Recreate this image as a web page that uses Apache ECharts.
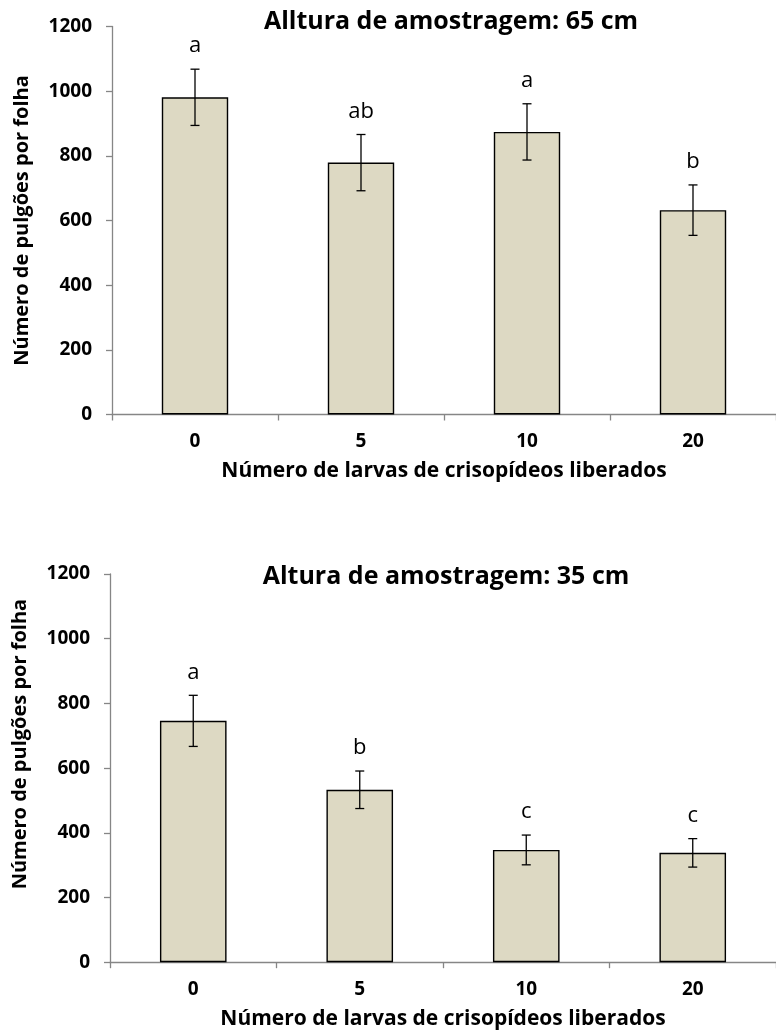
<!DOCTYPE html>
<html>
<head>
<meta charset="utf-8">
<script src="https://cdn.jsdelivr.net/npm/echarts@6/dist/echarts.min.js"></script>
<style>
  html, body { margin: 0; padding: 0; background: #ffffff; }
  #chart { width: 776px; height: 1035px; }
</style>
</head>
<body>
<div id="chart"></div>
<script>
// Number of lacewing larvae released (x categories)
const categories = ['0', '5', '10', '20'];

// Sampling height 65 cm: mean aphids per leaf, standard error, Tukey letters
const mean65 = [981, 779, 874, 632];
const err65 = [87, 87, 87, 78];
const letters65 = ['a', 'ab', 'a', 'b'];

// Sampling height 35 cm
const mean35 = [746, 533, 347, 338];
const err35 = [79, 58, 46, 44];
const letters35 = ['a', 'b', 'c', 'c'];

// Y axis range and step
const yMin = 0;
const yMax = 1200;
const yStep = 200;

const titles = ['Alltura de amostragem: 65 cm', 'Altura de amostragem: 35 cm'];
const xName = 'Número de larvas de crisopídeos liberados';
const yName = 'Número de pulgões por folha';

const FONT = '"Open Sans", "Liberation Sans", sans-serif';
const axisGrey = '#868686';

function xAxisFor(gridIndex) {
  return {
    type: 'category',
    gridIndex: gridIndex,
    data: categories,
    name: xName,
    nameLocation: 'middle',
    nameGap: 45,
    nameTextStyle: { fontFamily: FONT, fontWeight: 'bold', fontSize: 21, lineHeight: 24, color: '#000' },
    axisLine: { lineStyle: { color: axisGrey, width: 1.3 } },
    axisTick: { show: true, length: 6, interval: 0, lineStyle: { color: axisGrey, width: 1.3 } },
    axisLabel: { fontFamily: FONT, fontWeight: 'bold', fontSize: 19, color: '#000', margin: 18, interval: 0 },
    splitLine: { show: false }
  };
}

function yAxisFor(gridIndex, namePad) {
  return {
    type: 'value',
    gridIndex: gridIndex,
    min: yMin,
    max: yMax,
    interval: yStep,
    name: yName,
    nameLocation: 'middle',
    nameRotate: 90,
    nameGap: 78,
    nameTextStyle: { fontFamily: FONT, fontWeight: 'bold', fontSize: 20, lineHeight: 24, color: '#000', padding: namePad },
    axisLine: { show: true, lineStyle: { color: axisGrey, width: 1.3 } },
    axisTick: { show: true, length: 6, lineStyle: { color: axisGrey, width: 1.3 } },
    axisLabel: {
      fontFamily: FONT, fontWeight: 'bold', fontSize: 19, color: '#000', margin: 20,
      formatter: function (v) { return String(v); }
    },
    splitLine: { show: false }
  };
}

function barSeries(gridIndex, means) {
  return {
    type: 'bar',
    xAxisIndex: gridIndex,
    yAxisIndex: gridIndex,
    data: means,
    barWidth: '40%',
    z: 2,
    itemStyle: { color: '#DDD9C3', borderColor: '#000', borderWidth: 1.4 },
    emphasis: { disabled: true },
    silent: true
  };
}

// Error bars with caps, plus the significance letter above each bar
function errorSeries(gridIndex, means, errs, letters) {
  return {
    type: 'custom',
    xAxisIndex: gridIndex,
    yAxisIndex: gridIndex,
    silent: true,
    z: 5,
    data: means.map((m, i) => [i, m - errs[i], m + errs[i]]),
    renderItem: function (params, api) {
      const x = api.coord([api.value(0), 0])[0];
      const lo = api.coord([api.value(0), api.value(1)])[1];
      const hi = api.coord([api.value(0), api.value(2)])[1];
      const half = 4.5;
      const st = { stroke: '#000', lineWidth: 1.3 };
      return {
        type: 'group',
        children: [
          { type: 'line', shape: { x1: x, y1: hi, x2: x, y2: lo }, style: st },
          { type: 'line', shape: { x1: x - half, y1: hi, x2: x + half, y2: hi }, style: st },
          { type: 'line', shape: { x1: x - half, y1: lo, x2: x + half, y2: lo }, style: st },
          {
            type: 'text', x: x, y: hi - 12,
            style: {
              text: letters[params.dataIndex], fill: '#000',
              font: 'normal 22px ' + FONT,
              textAlign: 'center', textVerticalAlign: 'bottom'
            }
          }
        ]
      };
    }
  };
}

const chart = echarts.init(document.getElementById('chart'), null, { renderer: 'canvas' });

chart.setOption({
  animation: false,
  backgroundColor: '#ffffff',
  title: [
    {
      text: titles[0], left: 451, top: 8, textAlign: 'center', padding: 0,
      textStyle: { fontFamily: FONT, fontWeight: 'bold', fontSize: 25, lineHeight: 28, color: '#000' }
    },
    {
      text: titles[1], left: 446, top: 563, textAlign: 'center', padding: 0,
      textStyle: { fontFamily: FONT, fontWeight: 'bold', fontSize: 25, lineHeight: 28, color: '#000' }
    }
  ],
  grid: [
    { left: 112, top: 26.5, width: 674.8, height: 388, containLabel: false },
    { left: 109, top: 574, width: 673.6, height: 388.2, containLabel: false }
  ],
  xAxis: [xAxisFor(0), xAxisFor(1)],
  yAxis: [yAxisFor(0, [0, 0, 0, 0]), yAxisFor(1, [0, 0, 0, 48])],
  series: [
    barSeries(0, mean65),
    errorSeries(0, mean65, err65, letters65),
    barSeries(1, mean35),
    errorSeries(1, mean35, err35, letters35)
  ]
});
</script>
</body>
</html>
